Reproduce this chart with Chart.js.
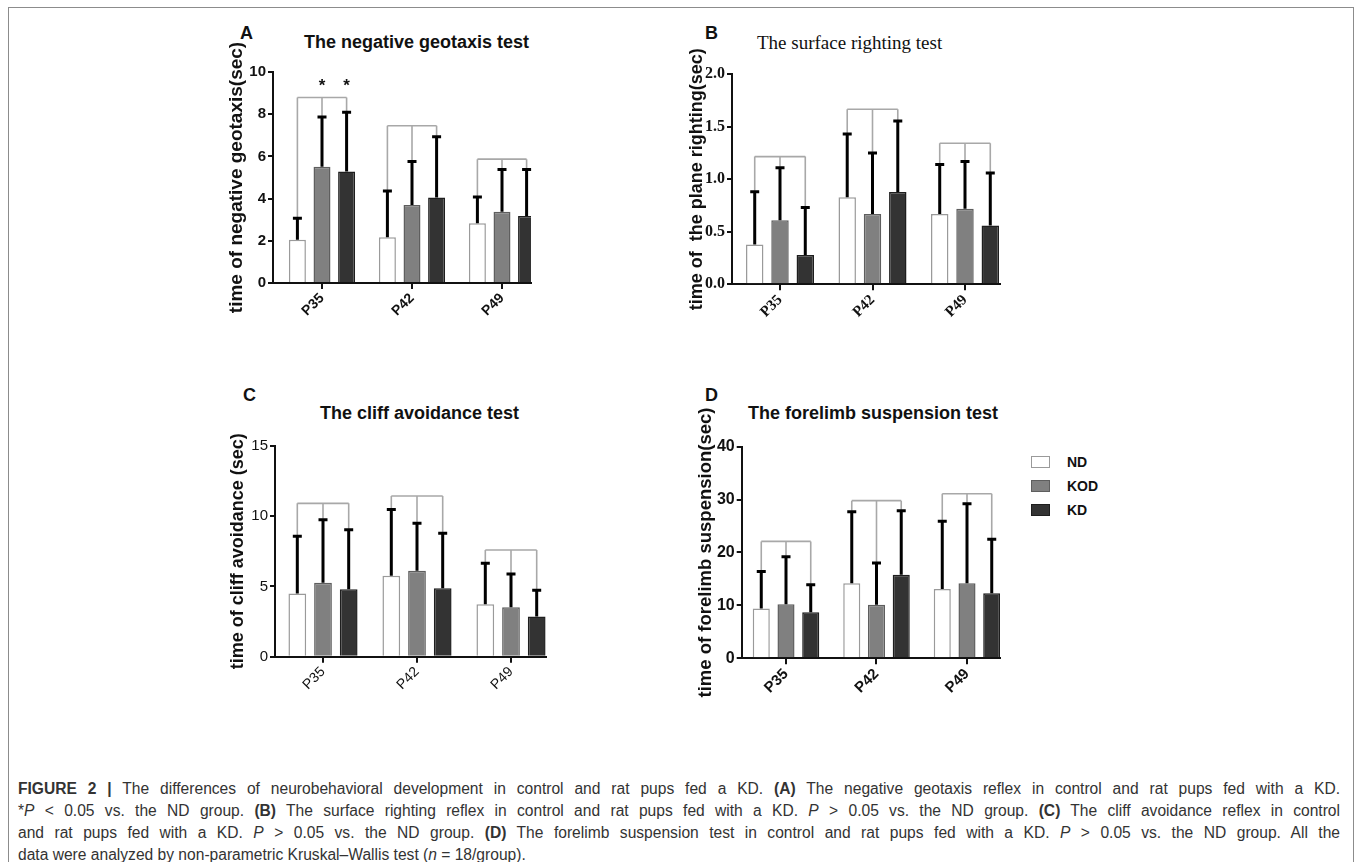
<!DOCTYPE html>
<html><head><meta charset="utf-8">
<script src="https://cdn.jsdelivr.net/npm/chart.js@4.4.1/dist/chart.umd.min.js"></script>
<style>
html,body{margin:0;padding:0;background:#fff;width:1358px;height:862px;overflow:hidden;position:relative;}
.frame{position:absolute;left:8px;top:7px;width:1346px;height:900px;border:1px solid #8c8c8c;box-sizing:border-box;}
canvas{position:absolute;}
.t{position:absolute;white-space:nowrap;color:#111;line-height:1;}
.letter{font-family:'Liberation Sans',Arial,sans-serif;font-weight:bold;font-size:18px;}
.ttl{font-family:'Liberation Sans',Arial,sans-serif;font-weight:bold;font-size:18px;}
.ttlS{font-family:'Liberation Serif','Times New Roman',serif;font-size:19px;}
.leg{position:absolute;font-family:'Liberation Sans',Arial,sans-serif;font-weight:bold;font-size:14px;color:#111;}
.legbox{position:absolute;width:19px;height:12px;box-sizing:border-box;}
.cap{position:absolute;left:18px;width:1322px;font-family:'Liberation Sans',Arial,sans-serif;font-size:15.6px;color:#333;white-space:nowrap;text-align:justify;text-align-last:justify;line-height:20px;}
.cap.last{text-align-last:left;}
</style></head><body>
<div class="frame"></div>

<div class="t letter" style="left:240px;top:24px;">A</div>
<div class="t letter" style="left:705px;top:24px;">B</div>
<div class="t letter" style="left:243px;top:386px;">C</div>
<div class="t letter" style="left:705px;top:386px;">D</div>

<div class="t ttl" style="left:304px;top:33px;">The negative geotaxis test</div>
<div class="t ttlS" style="left:757px;top:33px;">The surface righting test</div>
<div class="t ttl" style="left:320px;top:404px;">The cliff avoidance test</div>
<div class="t ttl" style="left:748px;top:404px;">The forelimb suspension test</div>

<canvas id="cA" width="340" height="315" style="left:220px;top:25px;"></canvas>
<canvas id="cB" width="325" height="320" style="left:685px;top:25px;"></canvas>
<canvas id="cC" width="338" height="325" style="left:222px;top:395px;"></canvas>
<canvas id="cD" width="320" height="325" style="left:690px;top:395px;"></canvas>

<div id="legend"></div>

<div class="cap" style="top:779px;"><b>FIGURE 2 |</b> The differences of neurobehavioral development in control and rat pups fed a KD. <b>(A)</b> The negative geotaxis reflex in control and rat pups fed with a KD.</div>
<div class="cap" style="top:801px;">*<i>P</i> &lt; 0.05 vs. the ND group. <b>(B)</b> The surface righting reflex in control and rat pups fed with a KD. <i>P</i> &gt; 0.05 vs. the ND group. <b>(C)</b> The cliff avoidance reflex in control</div>
<div class="cap" style="top:823px;">and rat pups fed with a KD. <i>P</i> &gt; 0.05 vs. the ND group. <b>(D)</b> The forelimb suspension test in control and rat pups fed with a KD. <i>P</i> &gt; 0.05 vs. the ND group. All the</div>
<div class="cap last" style="top:845px;">data were analyzed by non-parametric Kruskal–Wallis test (<i>n</i> = 18/group).</div>

<script>
// ---------- data ----------
const categories = ['P35', 'P42', 'P49'];
const seriesNames = ['ND', 'KOD', 'KD'];
const seriesFill = ['#ffffff', '#808080', '#333333'];
const seriesBorder = ['#9a9a9a', '#5e5e5e', '#1e1e1e'];

// A: negative geotaxis (mean, upper error limit, bracket level)
const geoND = [2.05, 2.17, 2.83];
const geoKOD = [5.51, 3.70, 3.38];
const geoKD = [5.28, 4.05, 3.17];
const geoNDTop = [3.12, 4.41, 4.12];
const geoKODTop = [7.92, 5.80, 5.43];
const geoKDTop = [8.14, 6.98, 5.43];
const geoBracket = [8.79, 7.45, 5.87];
const geoStars = [[0, 1], [0, 2]]; // [category, series]
const geoTicks = [0, 2, 4, 6, 8, 10];

// B: surface righting
const rigND = [0.38, 0.83, 0.67];
const rigKOD = [0.61, 0.67, 0.72];
const rigKD = [0.28, 0.88, 0.56];
const rigNDTop = [0.89, 1.44, 1.15];
const rigKODTop = [1.12, 1.26, 1.18];
const rigKDTop = [0.74, 1.565, 1.07];
const rigBracket = [1.216, 1.667, 1.343];
const rigTicks = [0, 0.5, 1.0, 1.5, 2.0];

// C: cliff avoidance
const clfND = [4.5, 5.76, 3.72];
const clfKOD = [5.26, 6.11, 3.51];
const clfKD = [4.79, 4.86, 2.85];
const clfNDTop = [8.63, 10.53, 6.71];
const clfKODTop = [9.8, 9.55, 5.95];
const clfKDTop = [9.1, 8.84, 4.8];
const clfBracket = [10.9, 11.42, 7.58];
const clfTicks = [0, 5, 10, 15];

// D: forelimb suspension
const forND = [9.4, 14.2, 13.1];
const forKOD = [10.2, 10.1, 14.2];
const forKD = [8.7, 15.8, 12.3];
const forNDTop = [16.6, 27.9, 26.1];
const forKODTop = [19.4, 18.2, 29.4];
const forKDTop = [14.1, 28.1, 22.7];
const forBracket = [22.1, 29.8, 31.1];
const forTicks = [0, 10, 20, 30, 40];

// ---------- drawing ----------
function errPlugin(tops, bracket, stars) {
  return {
    id: 'errbars',
    afterDatasetsDraw(chart) {
      const ctx = chart.ctx, y = chart.scales.y;
      ctx.save();
      // brackets
      ctx.strokeStyle = '#a8a8a8'; ctx.lineWidth = 1.6; ctx.lineCap = 'butt';
      categories.forEach((c, j) => {
        const xs = seriesNames.map((s, i) => chart.getDatasetMeta(i).data[j].x);
        const yb = y.getPixelForValue(bracket[j]);
        ctx.beginPath();
        ctx.moveTo(xs[0], yb); ctx.lineTo(xs[xs.length - 1], yb);
        xs.forEach((x, i) => { ctx.moveTo(x, yb); ctx.lineTo(x, y.getPixelForValue(tops[i][j])); });
        ctx.stroke();
      });
      // error bars
      ctx.strokeStyle = '#000'; ctx.lineWidth = 3;
      seriesNames.forEach((s, i) => {
        chart.getDatasetMeta(i).data.forEach((el, j) => {
          const yt = y.getPixelForValue(tops[i][j]);
          ctx.beginPath();
          ctx.moveTo(el.x, el.y); ctx.lineTo(el.x, yt);
          ctx.moveTo(el.x - 4.5, yt + 1); ctx.lineTo(el.x + 4.5, yt + 1);
          ctx.stroke();
        });
      });
      // significance stars
      ctx.fillStyle = '#111'; ctx.font = 'bold 17px "Liberation Sans", Arial, sans-serif';
      ctx.textAlign = 'center'; ctx.textBaseline = 'middle';
      stars.forEach(([j, i]) => {
        const x = chart.getDatasetMeta(i).data[j].x;
        ctx.fillText('*', x, y.getPixelForValue(bracket[j]) - 11);
      });
      ctx.restore();
    }
  };
}

function makePanel(p) {
  const cv = document.getElementById(p.id);
  const cLeft = parseFloat(cv.style.left), cTop = parseFloat(cv.style.top);
  const padL = p.titleX - cLeft - p.titleFont.size * 0.6;
  const xMin = (p.left - p.tick0) / p.spacing, xMax = (p.right - p.tick0) / p.spacing;
  const datasets = seriesNames.map((name, i) => ({
    label: name,
    data: categories.map((c, j) => ({ x: j, y: p.means[i][j] })),
    backgroundColor: seriesFill[i], borderColor: seriesBorder[i], borderWidth: 1.5,
    categoryPercentage: 0.82, barPercentage: 0.69
  }));
  return new Chart(cv.getContext('2d'), {
    type: 'bar',
    data: { datasets },
    options: {
      responsive: false, animation: false, events: [],
      layout: { padding: { left: padL, top: p.top - cTop, right: cLeft + cv.width - p.right, bottom: 0 } },
      plugins: { legend: { display: false }, tooltip: { enabled: false } },
      scales: {
        x: {
          type: 'linear', min: xMin, max: xMax, offset: false,
          afterBuildTicks: s => { s.ticks = categories.map((c, j) => ({ value: j })); },
          ticks: { callback: v => categories[v], minRotation: 45, maxRotation: 45, autoSkip: false,
                   font: p.xFont, color: '#111', padding: 1 },
          grid: { offset: false, drawOnChartArea: false, drawTicks: true, tickLength: 6, color: '#111', lineWidth: 2 },
          border: { color: '#111', width: 2 },
          afterFit: s => { s.height = cTop + cv.height - p.bottom; }
        },
        y: {
          min: 0, max: p.ticks[p.ticks.length - 1],
          afterBuildTicks: s => { s.ticks = p.ticks.map(v => ({ value: v })); },
          ticks: { callback: p.fmt, font: p.yFont, color: '#111', padding: 2 },
          grid: { drawOnChartArea: false, drawTicks: true, tickLength: 5, color: '#111', lineWidth: 2 },
          border: { color: '#111', width: 2 },
          title: { display: true, text: p.title, font: p.titleFont, color: '#111', padding: 0 },
          afterFit: s => { s.width = p.left - cLeft - padL; }
        }
      }
    },
    plugins: [errPlugin(p.tops, p.bracket, p.stars)]
  });
}

const sansBold = (sz) => ({ family: "'Liberation Sans',Arial,sans-serif", weight: 'bold', size: sz });
const serifBold = (sz) => ({ family: "'Liberation Serif','Times New Roman',serif", weight: 'bold', size: sz });
const sansReg = (sz) => ({ family: "'Liberation Sans',Arial,sans-serif", weight: 'normal', size: sz });

makePanel({ id: 'cA', left: 273, right: 531, top: 72, bottom: 283, tick0: 322, spacing: 90, titleX: 237,
  means: [geoND, geoKOD, geoKD], tops: [geoNDTop, geoKODTop, geoKDTop], bracket: geoBracket, stars: geoStars,
  ticks: geoTicks, fmt: v => String(v), title: 'time of negative geotaxis(sec)',
  titleFont: sansBold(19), yFont: sansBold(15), xFont: sansBold(14) });

makePanel({ id: 'cB', left: 732, right: 1000, top: 74.3, bottom: 284.3, tick0: 780, spacing: 92.5, titleX: 697,
  means: [rigND, rigKOD, rigKD], tops: [rigNDTop, rigKODTop, rigKDTop], bracket: rigBracket, stars: [],
  ticks: rigTicks, fmt: v => v.toFixed(1), title: 'time of  the plane righting(sec)',
  titleFont: sansBold(18), yFont: serifBold(16), xFont: serifBold(15) });

makePanel({ id: 'cC', left: 275, right: 546, top: 445.7, bottom: 656.7, tick0: 323, spacing: 94, titleX: 238,
  means: [clfND, clfKOD, clfKD], tops: [clfNDTop, clfKODTop, clfKDTop], bracket: clfBracket, stars: [],
  ticks: clfTicks, fmt: v => String(v), title: 'time of cliff avoidance (sec)',
  titleFont: sansBold(18), yFont: sansReg(15), xFont: sansReg(14) });

makePanel({ id: 'cD', left: 741.7, right: 1000, top: 446.7, bottom: 658.3, tick0: 786, spacing: 90.5, titleX: 706,
  means: [forND, forKOD, forKD], tops: [forNDTop, forKODTop, forKDTop], bracket: forBracket, stars: [],
  ticks: forTicks, fmt: v => String(v), title: 'time of forelimb suspension(sec)',
  titleFont: sansBold(18.5), yFont: sansBold(16), xFont: sansBold(15) });

// legend built from series arrays
const leg = document.getElementById('legend');
seriesNames.forEach((name, i) => {
  const yc = 462 + i * 24;
  const b = document.createElement('div');
  b.className = 'legbox';
  b.style.cssText = `left:1031px;top:${yc - 6}px;background:${seriesFill[i]};border:1.5px solid ${seriesBorder[i]};`;
  leg.appendChild(b);
  const t = document.createElement('div');
  t.className = 'leg'; t.textContent = name;
  t.style.cssText = `left:1067px;top:${yc - 8}px;`;
  leg.appendChild(t);
});
</script>
</body></html>
